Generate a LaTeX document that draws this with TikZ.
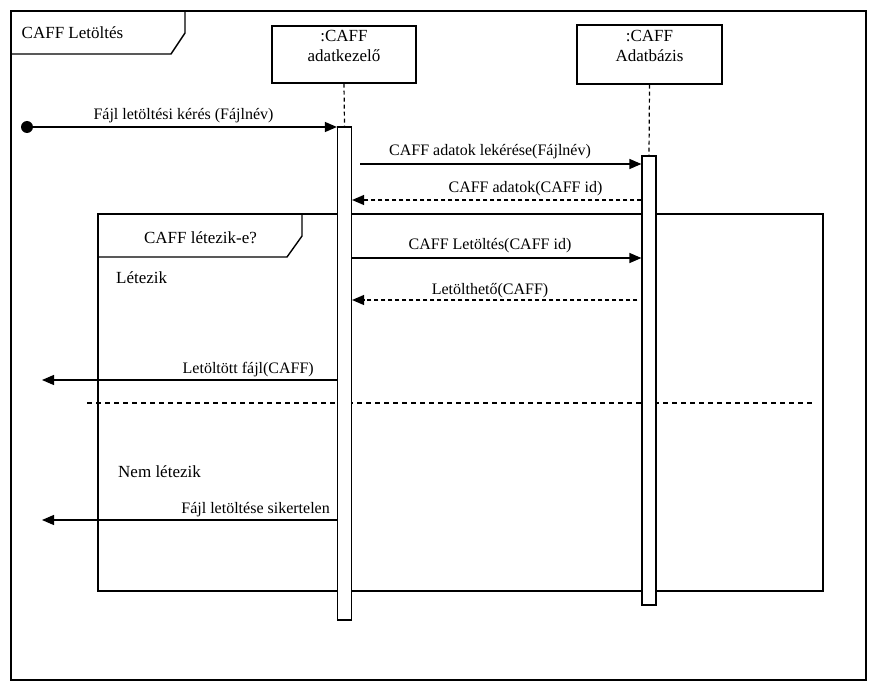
\documentclass[tikz,border=0pt]{standalone}
\usepackage{fontspec}
\setmainfont{Liberation Serif}
\usetikzlibrary{arrows.meta}
\begin{document}
\begin{tikzpicture}[x=1pt,y=-1pt,
  every node/.style={inner sep=0pt},
  txt/.style={font=\fontsize{16}{19}\selectfont, anchor=base},
  hdr/.style={font=\fontsize{17}{20}\selectfont, anchor=base},
  lifebox/.style={draw, line width=1.4pt, fill=white, minimum width=145pt, minimum height=58pt},
  act/.style={draw, line width=1.2pt, fill=white, minimum width=14pt},
  life/.style={line width=1.2pt, dash pattern=on 4pt off 3pt},
  msg/.style={line width=1.2pt, -{Triangle[length=12pt,width=10pt]}},
  ret/.style={msg, dash pattern=on 4pt off 3pt},
  sep/.style={line width=1.2pt, dash pattern=on 5pt off 4pt},
  frame/.style={line width=1.4pt}]
\useasboundingbox (0,0) rectangle (880,690);
\fill[white] (0,0) rectangle (880,690);

% outer frame
\draw[frame] (11,11) rectangle (866,680);
\draw[frame] (11,54) -- (171,54) -- (185,33) -- (185,11);
\node[hdr] (title) at (72.5,39) {CAFF Letöltés};

% alt frame
\draw[frame] (98,214) rectangle (823,591);
\draw[frame] (98,257) -- (287,257) -- (302,236) -- (302,214);
\node[hdr] (guard) at (200.5,243) {CAFF létezik-e?};
\node[hdr, anchor=base west] (op1) at (116,283) {Létezik};
\node[hdr, anchor=base west] (op2) at (118,477) {Nem létezik};
\coordinate (sepL) at (87,403);
\coordinate (sepR) at (812,403);
\draw[sep] (sepL) -- (sepR);

% lifeline heads
\node[lifebox, minimum width=144pt, minimum height=57pt] (b1) at (344,54.5) {};
\node[hdr] (b1a) at (344,42) {:CAFF};
\node[hdr] (b1b) at (344,62) {adatkezelő};
\node[lifebox, minimum width=145pt, minimum height=59pt] (b2) at (649.5,54.5) {};
\node[hdr] (b2a) at (649.5,42) {:CAFF};
\node[hdr] (b2b) at (649.5,62) {Adatbázis};

% activations
\node[act, minimum height=493pt] (a1) at (344.5,373.5) {};
\node[act, minimum height=449pt] (a2) at (649,380.5) {};

\draw[life] (b1.south) -- (a1.north);
\draw[life] (b2.south) -- (a2.north);

% y levels
\coordinate (y1) at (0,127);
\coordinate (y2) at (0,164);
\coordinate (y3) at (0,200);
\coordinate (y4) at (0,258);
\coordinate (y5) at (0,300);
\coordinate (L6) at (42,380);
\coordinate (L9) at (42,520);

% messages
\node[circle, fill=black, minimum size=12pt] (start) at (27,127) {};
\draw[msg] (start.center) -- (a1.west |- y1);
\node[txt] (m1) at (183.5,120) {Fájl letöltési kérés (Fájlnév)};

\draw[msg] ([xshift=8pt]a1.east |- y2) -- (a2.west |- y2);
\node[txt] (m2) at (490,155) {CAFF adatok lekérése(Fájlnév)};

\draw[ret] (a2.west |- y3) -- (a1.east |- y3);
\node[txt] (m3) at (525.5,192) {CAFF adatok(CAFF id)};

\draw[msg] (a1.east |- y4) -- (a2.west |- y4);
\node[txt] (m4) at (490,249) {CAFF Letöltés(CAFF id)};

\draw[ret] ([xshift=-4pt]a2.west |- y5) -- (a1.east |- y5);
\node[txt] (m5) at (490,294) {Letölthető(CAFF)};

\draw[msg] (a1.west |- L6) -- (L6);
\node[txt, anchor=base east] (m6) at (314,373) {Letöltött fájl(CAFF)};

\draw[msg] (a1.west |- L9) -- (L9);
\node[txt, anchor=base east] (m9) at (330,513) {Fájl letöltése sikertelen};
\end{tikzpicture}
\end{document}
